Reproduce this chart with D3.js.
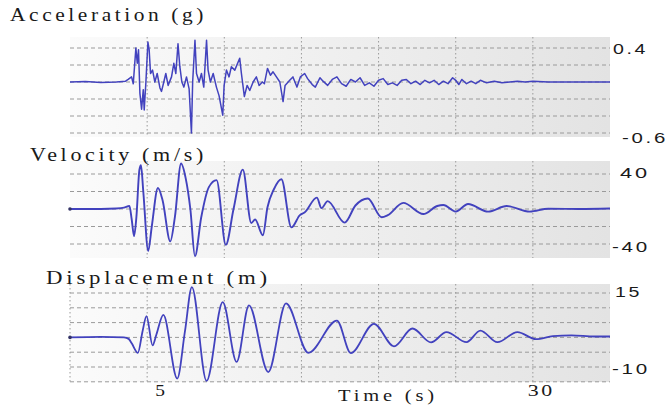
<!DOCTYPE html>
<html>
<head>
<meta charset="utf-8">
<script src="https://cdn.jsdelivr.net/npm/d3@7"></script>
<style>
body { margin: 0; background: #fff; }
</style>
</head>
<body>
<div id="chart"></div>
<script>

// time axis (s)
var timeDomain = [0, 35];
var timeGrid = [5, 10, 15, 20, 25, 30];
var timeLabels = [5, 30];

// acceleration (g) : [t, value]
var accel = [
  [0,0],[1,0.005],[2,-0.005],[3,0],[3.6,0.01],[3.77,0.03],[3.99,0.06],[4.1,-0.02],
  [4.27,0.40],[4.36,0.22],[4.44,0.38],[4.53,-0.13],[4.64,-0.32],[4.75,-0.09],[4.81,-0.33],
  [4.92,0],[5.05,0.47],[5.13,0.38],[5.22,0.10],[5.35,0.14],[5.5,0],[5.65,0.10],[5.83,-0.07],
  [5.93,-0.11],[6.08,0],[6.21,0.10],[6.36,-0.04],[6.58,0.06],[6.73,0.22],[6.86,0.10],
  [7.0,0.45],[7.12,0.18],[7.25,0],[7.38,-0.06],[7.55,0.06],[7.72,-0.08],[7.87,-0.60],
  [7.95,0],[8.1,0.49],[8.2,0.10],[8.37,0],[8.52,0.10],[8.67,-0.06],[8.85,0.49],[8.95,0.14],
  [9.1,0],[9.28,0.10],[9.49,-0.06],[9.66,-0.16],[9.9,-0.39],[9.99,-0.04],[10.14,0.14],
  [10.31,0.06],[10.46,0.18],[10.68,0.14],[11.0,0.28],[11.11,0.10],[11.3,-0.17],[11.48,-0.04],
  [11.65,-0.10],[11.87,0],[12.08,0.06],[12.26,-0.04],[12.47,0],[12.6,-0.02],[12.8,0.16],
  [12.99,0.08],[13.16,0.12],[13.38,0.06],[13.6,0],[13.81,-0.23],[13.94,-0.04],[14.24,0.02],
  [14.45,0.06],[14.71,-0.06],[14.93,0.06],[15.21,0.10],[15.4,0.04],[15.7,-0.03],[15.9,-0.06],
  [16.2,0.05],[16.4,0.01],[16.7,-0.04],[17.0,0.03],[17.3,0.06],[17.6,-0.02],[17.9,-0.05],
  [18.2,0.03],[18.5,0],[18.8,0.05],[19.1,-0.04],[19.4,-0.01],[19.7,-0.05],[20.0,0.02],
  [20.3,0.04],[20.6,-0.03],[20.9,-0.01],[21.2,-0.04],[21.5,0.02],[21.8,0.03],[22.1,-0.02],
  [22.4,0.01],[22.7,-0.03],[23.0,0.02],[23.3,-0.01],[23.6,0.02],[23.9,-0.03],[24.2,0.01],
  [24.5,-0.02],[24.8,0.05],[25.0,0.02],[25.2,-0.03],[25.4,0.03],[25.7,-0.02],[26.0,0.01],
  [26.3,-0.02],[26.6,0.02],[27.0,-0.01],[27.5,0.01],[28.0,-0.01],[28.5,0],[29.0,0.01],
  [29.5,0],[30,0.01],[31,0],[35,0]
];

// velocity (m/s)
var veloc = [
  [0,0],[2,0],[3,0.5],[3.5,1.5],[3.85,3.5],[4.0,-12],[4.15,-31],[4.3,-10],[4.5,45],[4.6,50],
  [4.75,20],[5.07,-48],[5.3,-20],[5.7,24],[6.0,10],[6.5,-37],[6.8,-9],[7.2,52],[7.5,35],
  [7.8,0],[8.1,-54],[8.5,-10],[9.0,25],[9.5,33],[10.1,-41],[10.6,0],[11.2,45],[11.75,-16],
  [12.0,-12],[12.5,-30],[12.8,2],[13.2,22],[13.7,34],[14.35,-21],[14.9,-7],[15.2,-4],
  [16.0,13],[16.3,1],[16.7,9],[17.8,-15.6],[18.5,4],[19.3,12],[20.2,-9.5],[20.6,-7],
  [21.6,7],[22.9,-5.7],[23.8,3.4],[24.2,4.5],[25.0,-3],[25.8,5.7],[27.1,-3],[28.3,3.4],
  [29.8,-3],[31,0.3],[33,0],[35,0.5]
];

// displacement (m)
var displ = [
  [0,0],[2,0.2],[3.5,0],[3.8,-0.5],[4.0,-2],[4.4,-5.2],[4.7,2],[4.96,7.2],[5.35,-2.7],
  [5.6,1],[6.05,7.6],[6.95,-13.9],[7.45,2],[7.9,17],[8.85,-14.7],[9.9,11.9],[10.8,-8.3],
  [11.6,10.8],[12.85,-11.7],[14.0,11.5],[15.45,-5.2],[17.3,5.7],[18.2,-5.3],[19.7,4.6],
  [21.0,-3.0],[22.2,3.0],[23.4,-1.7],[24.4,1.8],[25.7,-1.6],[26.6,2.3],[27.7,-1.6],
  [29.0,1.8],[30.2,-0.6],[31.3,0.4],[32.5,0.7],[34,0.3],[35,0.3]
];

// horizontal grid levels and end labels per panel
var accGrid = [0.4, 0.2, 0, -0.2, -0.4, -0.6];
var velGrid = [40, 20, 0, -20, -40];
var disGrid = [15, 10, 5, 0, -5, -10, -15];
var accLabels = ["0.4", "-0.6"];
var velLabels = ["40", "-40"];
var disLabels = ["15", "-10"];

var width = 669, height = 408;
var left = 70, right = 610;

var svg = d3.select("#chart").append("svg")
  .attr("width", width)
  .attr("height", height);

var grad = svg.append("defs").append("linearGradient")
  .attr("id", "bg").attr("x1", "0").attr("x2", "1").attr("y1", "0").attr("y2", "0");
grad.append("stop").attr("offset", "0").attr("stop-color", "#fbfbfb");
grad.append("stop").attr("offset", "0.4").attr("stop-color", "#f1f1f1");
grad.append("stop").attr("offset", "1").attr("stop-color", "#e3e3e3");

var x = d3.scaleLinear().domain(timeDomain).range([left, right]);

// stretched text, like the wide bitmap font of the original
function wideText(sel, str, px, py, len, font, size, spacing) {
  return sel.append("text")
    .attr("x", px).attr("y", py)
    .attr("textLength", len).attr("lengthAdjust", "spacingAndGlyphs")
    .style("font-family", font)
    .style("font-size", size + "px")
    .style("letter-spacing", spacing + "px")
    .style("fill", "#1a1a1a")
    .text(str);
}

var serif = "'Liberation Serif', serif";
var sans = "'Liberation Sans', sans-serif";

// panel layout (pixel geometry only)
var panels = [
  {title: "Acceleration (g)", tx: 10, tw: 197, ty: 21, data: accel, grid: accGrid,
   hi: 0.4, lo: -0.6, hiPx: 48, loPx: 133, top: 37, bottom: 137, curve: d3.curveLinear,
   labels: accLabels, lab: [{x: 613, w: 35, y: 54}, {x: 622, w: 46, y: 143}], lineW: 1.5, leftGrid: false},
  {title: "Velocity (m/s)", tx: 30, tw: 177, ty: 161, data: veloc, grid: velGrid,
   hi: 40, lo: -40, hiPx: 174, loPx: 244, top: 161, bottom: 258, curve: d3.curveMonotoneX,
   labels: velLabels, lab: [{x: 620, w: 30, y: 178}, {x: 612, w: 38, y: 252}], lineW: 1.9, leftGrid: false},
  {title: "Displacement (m)", tx: 46, tw: 225, ty: 284, data: displ, grid: disGrid,
   hi: 15, lo: -10, hiPx: 293, loPx: 367, top: 284, bottom: 382, curve: d3.curveMonotoneX,
   labels: disLabels, lab: [{x: 615, w: 27, y: 297}, {x: 612, w: 38, y: 374}], lineW: 1.8, leftGrid: true}
];

panels.forEach(function(p) {
  var y = d3.scaleLinear().domain([p.lo, p.hi]).range([p.loPx, p.hiPx]);
  var g = svg.append("g");

  g.append("rect")
    .attr("x", left).attr("y", p.top)
    .attr("width", right - left).attr("height", p.bottom - p.top)
    .attr("fill", "url(#bg)");

  // dashed horizontal grid
  g.selectAll(".hg").data(p.grid).enter().append("line")
    .attr("x1", left).attr("x2", right)
    .attr("y1", function(d) { return y(d); })
    .attr("y2", function(d) { return y(d); })
    .attr("stroke", "#9a9a9a").attr("stroke-width", 1)
    .attr("stroke-dasharray", "4,3");

  // dotted vertical grid
  var vt = p.leftGrid ? [0].concat(timeGrid) : timeGrid;
  g.selectAll(".vg").data(vt).enter().append("line")
    .attr("x1", function(d) { return x(d); })
    .attr("x2", function(d) { return x(d); })
    .attr("y1", p.top).attr("y2", p.bottom)
    .attr("stroke", "#9a9a9a").attr("stroke-width", 1)
    .attr("stroke-dasharray", "1.5,2.5");

  var line = d3.line()
    .x(function(d) { return x(d[0]); })
    .y(function(d) { return y(d[1]); })
    .curve(p.curve);

  g.append("path")
    .datum(p.data)
    .attr("d", line)
    .attr("fill", "none")
    .attr("stroke", "#4242be")
    .attr("stroke-width", p.lineW)
    .attr("stroke-linejoin", "round");

  if (p.curve !== d3.curveLinear) {
    g.append("circle")
      .attr("cx", x(p.data[0][0])).attr("cy", y(p.data[0][1]))
      .attr("r", 1.8).attr("fill", "#333366");
  }

  wideText(g, p.title, p.tx, p.ty, p.tw, serif, 18, 3);

  p.labels.forEach(function(t, i) {
    wideText(g, t, p.lab[i].x, p.lab[i].y, p.lab[i].w, sans, 15, 2);
  });
});

// time tick labels under the last panel
var labPos = {5: {dx: 8, w: 12}, 30: {dx: -5, w: 27}};
timeLabels.forEach(function(d) {
  wideText(svg, String(d), x(d) + labPos[d].dx, 396, labPos[d].w, serif, 17, 2);
});

wideText(svg, "Time (s)", 338, 401, 100, serif, 16, 3);

</script>
</body>
</html>
